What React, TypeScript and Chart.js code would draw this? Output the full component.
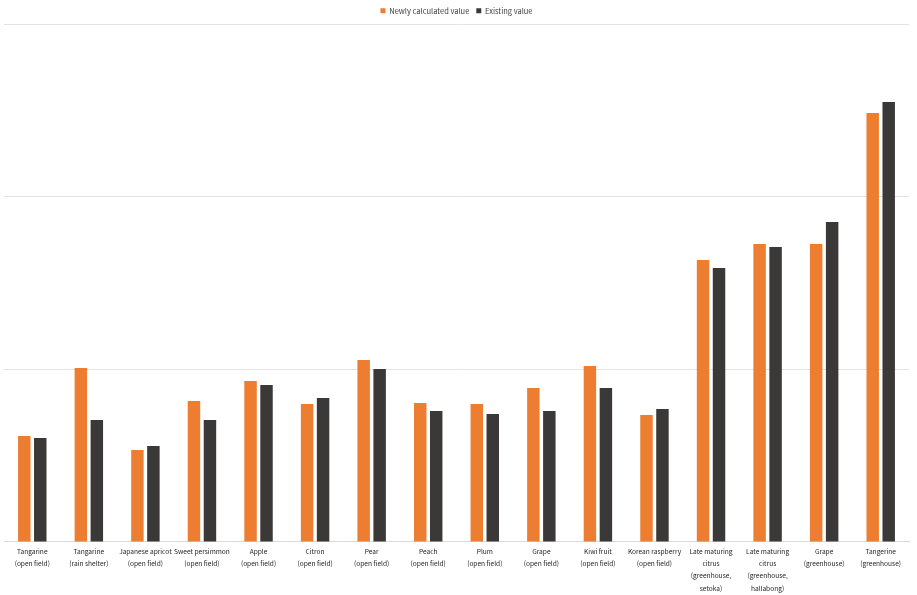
import React, { useEffect, useRef } from "react";
import { Chart, registerables } from "chart.js";

Chart.register(...registerables);

const categories: string[][] = [
  ["Tangarine", "(open field)"],
  ["Tangarine", "(rain shelter)"],
  ["Japanese apricot", "(open field)"],
  ["Sweet persimmon", "(open field)"],
  ["Apple", "(open field)"],
  ["Citron", "(open field)"],
  ["Pear", "(open field)"],
  ["Peach", "(open field)"],
  ["Plum", "(open field)"],
  ["Grape", "(open field)"],
  ["Kiwi fruit", "(open field)"],
  ["Korean raspberry", "(open field)"],
  ["Late maturing", "citrus", "(greenhouse,", "setoka)"],
  ["Late maturing", "citrus", "(greenhouse,", "hallabong)"],
  ["Grape", "(greenhouse)"],
  ["Tangerine", "(greenhouse)"],
];

const newlyCalculated: number[] = [
  0.614, 1.009, 0.533, 0.817, 0.933, 0.8, 1.055, 0.806, 0.8, 0.893, 1.02, 0.736,
  1.635, 1.728, 1.728, 2.487,
];

const existingValue: number[] = [
  0.603, 0.707, 0.557, 0.707, 0.91, 0.835, 1.003, 0.759, 0.742, 0.759, 0.893,
  0.771, 1.588, 1.71, 1.855, 2.551,
];

const seriesNames: string[] = ["Newly calculated value", "Existing value"];

export default function App() {
  const ref = useRef<HTMLCanvasElement | null>(null);

  useEffect(() => {
    if (!ref.current) return;
    const font = "'Noto Sans CJK KR', 'Noto Sans', sans-serif";
    const chart = new Chart(ref.current, {
      type: "bar",
      data: {
        labels: categories,
        datasets: [
          {
            label: seriesNames[0],
            data: newlyCalculated,
            backgroundColor: "#ED7D31",
            borderWidth: 0,
          },
          {
            label: seriesNames[1],
            data: existingValue,
            backgroundColor: "#3B3838",
            borderWidth: 0,
          },
        ],
      },
      options: {
        responsive: true,
        maintainAspectRatio: false,
        animation: false,
        layout: { padding: { left: 4, right: 8, top: 0, bottom: -3 } },
        datasets: {
          bar: { categoryPercentage: 0.565, barPercentage: 0.78 },
        },
        plugins: {
          tooltip: { enabled: false },
          legend: {
            position: "top",
            labels: {
              boxWidth: 5,
              boxHeight: 5,
              padding: 7,
              color: "#404040",
              font: { family: font, size: 7.5 },
            },
          },
        },
        scales: {
          x: {
            grid: { display: false, drawTicks: false },
            border: { display: true, color: "#d9d9d9", width: 1 },
            ticks: {
              autoSkip: false,
              maxRotation: 0,
              minRotation: 0,
              padding: 4,
              color: "#262626",
              font: { family: font, size: 6.6, lineHeight: 1.82 },
            },
          },
          y: {
            min: 0,
            max: 3,
            ticks: { display: false, stepSize: 1 },
            grid: { color: "#e3e3e3", drawTicks: false },
            border: { display: false },
          },
        },
      },
    });
    return () => chart.destroy();
  }, []);

  return (
    <div style={{ position: "fixed", left: 0, top: 0, width: 917, height: 595, background: "#fff" }}>
      <canvas ref={ref} />
    </div>
  );
}
